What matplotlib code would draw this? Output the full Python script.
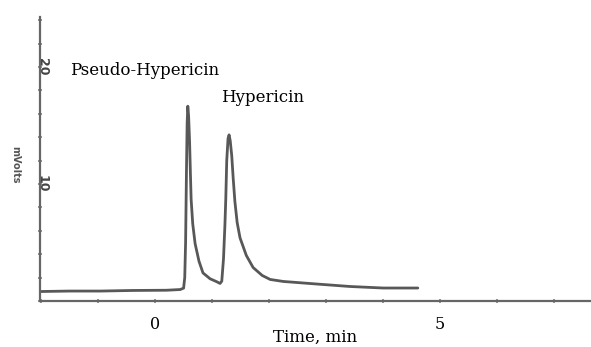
import matplotlib
matplotlib.use("Agg")
import matplotlib.pyplot as plt

# Chromatogram trace (time in min, signal in mV)
time_min = [-2.02, -1.5, -0.96, -0.4, 0.2, 0.44, 0.5, 0.52, 0.535, 0.55, 0.562,
            0.574, 0.588, 0.605, 0.62, 0.632, 0.66, 0.702, 0.77, 0.84, 0.965,
            1.08, 1.14, 1.17, 1.2, 1.225, 1.24, 1.257, 1.28, 1.298, 1.318,
            1.345, 1.37, 1.40, 1.44, 1.49, 1.6, 1.72, 1.88, 2.02, 2.25, 2.84,
            3.42, 4.0, 4.61]
signal_mv = [0.81, 0.85, 0.85, 0.9, 0.92, 0.98, 1.1, 2.0, 5.0, 11.0, 15.2,
             16.65, 15.8, 13.6, 10.8, 8.7, 6.6, 4.9, 3.4, 2.4, 1.9,
             1.65, 1.5, 1.7, 3.6, 6.5, 8.7, 12.0, 13.9, 14.2, 13.7,
             12.4, 10.5, 8.5, 6.7, 5.4, 3.9, 2.86, 2.18, 1.84, 1.67, 1.45,
             1.24, 1.11, 1.11]

x_ticks = [-2, -1, 0, 1, 2, 3, 4, 5, 6, 7]
x_labels = ["", "", "0", "", "", "", "", "5", "", ""]
y_ticks = [0, 2, 4, 6, 8, 10, 12, 14, 16, 18, 20, 22, 24]
y_labels = ["", "", "", "", "", "10", "", "", "", "", "20", "", ""]

peak_names = ["Pseudo-Hypericin", "Hypericin"]
peak_label_pos = [(-1.5, 19.7), (1.16, 17.4)]

W, H = 591, 347
fig = plt.figure(figsize=(W / 100, H / 100), dpi=100)
ax = fig.add_axes([40 / W, 1 - 301 / H, (W - 40) / W, (301 - 17) / H])

ax.plot(time_min, signal_mv, color="#585858", lw=2.0, solid_capstyle="round",
        solid_joinstyle="round")

ax.set_xlim(-2.02, (W - 155) / 57)
ax.set_ylim(0, (301 - 17) / 11.7)

for s in ["top", "right"]:
    ax.spines[s].set_visible(False)
for s in ["left", "bottom"]:
    ax.spines[s].set_color("#666666")
    ax.spines[s].set_linewidth(1.6)

serif = ["DejaVu Serif"]
ax.set_xticks(x_ticks)
ax.set_xticklabels(x_labels, fontfamily=serif, fontsize=11.5)
ax.set_yticks(y_ticks)
ax.set_yticklabels([])
ax.tick_params(axis="both", direction="inout", length=3, width=1.3, color="#888888", pad=9)

for v, lab in zip(y_ticks, y_labels):
    if lab:
        ax.text(-1.98, v, lab, rotation=-90, ha="center", va="center",
                fontsize=9, fontweight="bold", color="#444444")

ax.set_xlabel("Time, min", fontfamily=serif, fontsize=12, labelpad=-2.5)
fig.text(15 / W, 1 - 165 / H, "mVolts", rotation=-90, ha="center", va="center",
         fontsize=7, fontweight="bold", color="#555555")

for name, (tx, ty) in zip(peak_names, peak_label_pos):
    ax.text(tx, ty, name, fontfamily=serif, fontsize=12, ha="left", va="center")

fig.savefig("out.png", dpi=100)
